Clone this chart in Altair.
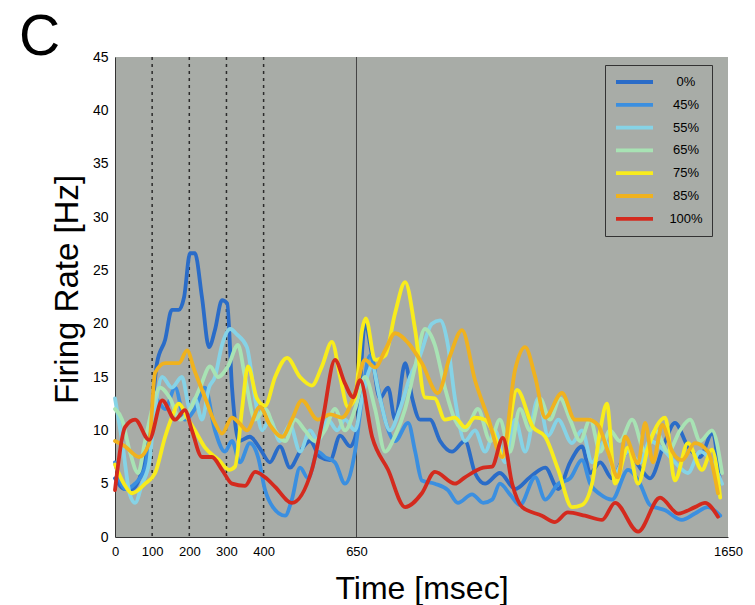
import altair as alt
import pandas as pd

series_names = ["0%", "45%", "55%", "65%", "75%", "85%", "100%"]
series_colors = ["#2a6cc8", "#3b8fe0", "#86d3e6", "#a8e3b4", "#f8ec1c", "#f0b21e", "#d42a1e"]
series_widths = [3.8, 3.8, 3, 3, 5, 5, 3]

t_0 = [0, 27, 46, 73, 94, 113, 135, 153, 172, 186, 202, 215, 234, 253, 269, 288, 302, 315, 334, 363,
       390, 417, 444, 471, 498, 525, 552, 579, 606, 633, 651, 673, 692, 713, 735, 754, 781, 800, 821, 848,
       875, 907, 942, 969, 996, 1036, 1077, 1117, 1158, 1193, 1225, 1257, 1279, 1306, 1338, 1381, 1413,
       1440, 1481, 1507, 1542, 1575, 1607, 1629]
hz_0 = [5.5, 4.5, 4.5, 6.3, 10, 16.3, 18.5, 21.3, 21.3, 22.5, 26.6, 26.6, 22.5, 17.8, 19.4, 22.2, 21.9, 14, 9, 9.4,
        8.3, 7, 8.5, 6.5, 8, 9, 7.5, 7.2, 9.5, 8.5, 10, 20, 17, 13, 14, 11, 16.3, 13, 11, 11,
        9, 8, 9, 6, 5, 6, 4.5, 5.6, 6.5, 4.5, 7, 8.5, 6, 7, 5.5, 8, 6.5,
        5.5, 9, 10.7, 8.5, 7.5, 9.7, 5]

t_45 = [0, 27, 54, 81, 108, 135, 162, 188, 215, 242, 269, 296, 315, 336, 363, 385, 404, 425, 458, 476,
        498, 520, 546, 565, 592, 619, 646, 665, 686, 708, 727, 754, 789, 808, 826, 861, 896, 923, 961, 991,
        1015, 1036, 1063, 1090, 1131, 1158, 1193, 1225, 1257, 1279, 1306, 1338, 1381, 1413, 1440, 1481,
        1526, 1561, 1596, 1629]
hz_45 = [7, 4.5, 5, 6.5, 13, 12, 14, 11, 12, 14, 10, 8, 9, 7, 8.8, 7.5, 4.4, 2.8, 2, 3.5,
         6.5, 5.5, 8, 7.5, 7, 5, 8, 13, 17, 14, 11, 9, 10.7, 8, 5.3, 5, 4.4, 3.2, 4, 3.2,
         3.5, 5, 4, 3, 5.6, 3.5, 5, 5.5, 7.2, 5, 4, 3.5, 6.3, 5, 3, 2.5,
         1.6, 2.2, 2.8, 2]

t_55 = [0, 19, 40, 54, 73, 92, 108, 127, 153, 180, 202, 215, 234, 253, 269, 288, 310, 328, 355, 377,
        396, 417, 444, 471, 498, 525, 546, 573, 598, 619, 646, 665, 692, 713, 740, 767, 794, 821, 853, 875,
        896, 915, 942, 969, 996, 1023, 1050, 1077, 1104, 1139, 1166, 1193, 1230, 1257, 1284, 1319, 1346,
        1381, 1413, 1440, 1481, 1507, 1542, 1575, 1607, 1634]
hz_55 = [13, 9, 4, 3.2, 5, 7, 12, 15, 14, 15, 12, 13, 11, 14, 15, 18, 19.5, 19, 17.8, 13,
         10, 11, 9, 10.5, 8, 10, 9, 11, 10, 11, 10, 13, 16, 13, 10, 12, 15, 17, 20, 20.3,
         18, 13, 9, 10, 8, 10, 7, 11, 8, 13, 9.5, 11, 8.8, 10, 7, 9, 6,
         8, 7, 9, 8, 7, 6, 8, 7, 5]

t_65 = [0, 19, 40, 62, 81, 100, 121, 148, 175, 202, 229, 256, 277, 304, 331, 350, 377, 404, 431, 458,
        485, 511, 538, 565, 592, 619, 646, 673, 700, 727, 754, 781, 808, 834, 861, 888, 915, 942, 977, 1010,
        1036, 1063, 1090, 1117, 1144, 1171, 1198, 1225, 1252, 1279, 1306, 1332, 1359, 1392, 1427, 1454,
        1489, 1521, 1548, 1575, 1607, 1634]
hz_65 = [12, 11, 8, 6, 9, 12, 14, 13, 11, 12, 14, 16, 15, 16, 18, 15, 11, 12, 10, 9,
         11, 10, 9, 10, 12, 10, 12, 15, 12, 8, 9.5, 12, 16, 19.5, 18, 14, 11, 10, 12, 9,
         11, 8, 12, 10, 13, 11, 13, 11, 9, 11, 8, 10, 9, 11, 8, 10,
         8, 10, 11, 9, 10, 6]

t_75 = [0, 24, 46, 81, 108, 135, 153, 172, 194, 215, 242, 280, 307, 323, 342, 358, 382, 404, 431, 463,
        498, 530, 557, 584, 606, 627, 646, 665, 675, 700, 727, 754, 781, 808, 834, 861, 888, 915, 942, 969,
        996, 1023, 1044, 1082, 1125, 1158, 1193, 1230, 1257, 1284, 1306, 1324, 1346, 1381, 1408, 1435,
        1481, 1507, 1542, 1580, 1607, 1629]
hz_75 = [6.8, 5, 4.1, 5, 6, 9.4, 11.2, 12.5, 11.2, 10, 8.4, 7.2, 6.3, 6.6, 12, 16, 13, 12.3, 15, 16.8,
         15, 14.2, 16, 18.3, 15, 12.2, 13, 19.4, 20.5, 16.6, 17, 21, 23.9, 19.4, 13.1, 13, 11, 11.2, 10.3, 11.2,
         11, 9.4, 7.5, 13.8, 10.3, 9.4, 6.3, 2.8, 3, 5, 10, 12.5, 5, 8.4, 5, 8.4,
         11.2, 5.3, 8.8, 6.3, 8.2, 3.7]

t_85 = [0, 27, 65, 92, 108, 135, 172, 194, 213, 242, 269, 288, 315, 334, 355, 390, 417, 450, 476, 503,
        546, 579, 611, 646, 673, 700, 727, 754, 789, 826, 869, 902, 934, 969, 1004, 1042, 1077, 1104, 1131,
        1158, 1203, 1238, 1273, 1300, 1327, 1354, 1373, 1408, 1427, 1448, 1473, 1500, 1526, 1561, 1596, 1623]
hz_85 = [9, 8.5, 7.5, 8.8, 15.4, 16.3, 16.3, 17.5, 15.7, 13.1, 10.7, 9.7, 11.2, 10.7, 10, 12.2, 10.5, 9.4, 11, 12.8,
         11, 11.5, 11.2, 13.5, 16.6, 15.9, 17.5, 19.1, 18.2, 16.3, 13.5, 17, 19.4, 14.7, 11.2, 7.5, 15.7, 17.8, 15,
         11.2, 13.5, 11, 11, 10.5, 8, 5.6, 9.4, 6.9, 10.7, 7, 10.5, 8, 7.2, 8.8, 8, 4.1]

t_100 = [0, 27, 54, 92, 127, 162, 188, 207, 234, 261, 288, 315, 350, 377, 404, 431, 476, 530, 560, 592,
         619, 641, 660, 692, 735, 781, 826, 861, 915, 942, 991, 1015, 1044, 1069, 1096, 1149, 1184, 1219,
         1265, 1311, 1346, 1408, 1467, 1516, 1561, 1588, 1623]
hz_100 = [4.4, 10.3, 11, 9.1, 12.8, 11, 11.9, 10, 7.5, 7.5, 6.3, 5, 4.8, 6.1, 5.6, 4.7, 3.2, 6.3, 11.2, 16.6,
          14.4, 13.1, 14.7, 9.4, 6.3, 2.8, 4.1, 6.1, 5, 5.6, 6.5, 6.6, 9.3, 5, 2.8, 2, 1.4, 2.3,
          2, 1.6, 3.2, 0.5, 3.7, 2.2, 2.8, 3.2, 1.9]

dashed_times = [100, 200, 300, 400]
solid_times = [650]
x_ticks = [0, 100, 200, 300, 400, 650, 1650]
y_ticks = [0, 5, 10, 15, 20, 25, 30, 35, 40, 45]

all_t = [t_0, t_45, t_55, t_65, t_75, t_85, t_100]
all_v = [hz_0, hz_45, hz_55, hz_65, hz_75, hz_85, hz_100]
rows = []
for name, ts, vs in zip(series_names, all_t, all_v):
    for t, v in zip(ts, vs):
        rows.append({"series": name, "time": t, "rate": v})
df = pd.DataFrame(rows)

FONT = "Liberation Sans"
BG = "#a8aca7"

x_scale = alt.Scale(domain=[0, 1650], nice=False, zero=False)
y_scale = alt.Scale(domain=[0, 45], nice=False)

lines = alt.Chart(df).mark_line(interpolate="monotone", strokeCap="round", strokeJoin="round").encode(
    x=alt.X("time:Q", scale=x_scale,
            axis=alt.Axis(values=x_ticks, format="d", title="Time [msec]", labelFlush=False, ticks=False,
                          labelPadding=8, labelFontSize=13, titleFontSize=32, titleY=61,
                          titleBaseline="alphabetic", grid=False)),
    y=alt.Y("rate:Q", scale=y_scale,
            axis=alt.Axis(values=y_ticks, title="Firing Rate [Hz]", labelFlush=False, ticks=False,
                          labelPadding=7, labelFontSize=14, titleFontSize=33, titleX=-38, titleY=232,
                          titleAngle=270, titleBaseline="alphabetic", titleAlign="center", grid=False)),
    color=alt.Color("series:N", sort=series_names,
                    scale=alt.Scale(domain=series_names, range=series_colors),
                    legend=alt.Legend(title=None, orient="none", legendX=490, legendY=8,
                                      strokeColor="#333333", fillColor=BG, padding=9,
                                      symbolType="stroke", symbolSize=1369, symbolStrokeWidth=3.8,
                                      clipHeight=16, rowPadding=6.8, labelFontSize=13,
                                      labelAlign="center", labelOffset=31, labelFont=FONT)),
    strokeWidth=alt.StrokeWidth("series:N", sort=series_names,
                                scale=alt.Scale(domain=series_names, range=series_widths), legend=None),
)

dashed = alt.Chart(pd.DataFrame({"time": dashed_times})).mark_rule(
    color="#2b2b2b", strokeDash=[3, 4], strokeWidth=1.5).encode(x=alt.X("time:Q", scale=x_scale))
solid = alt.Chart(pd.DataFrame({"time": solid_times})).mark_rule(
    color="#444444", strokeWidth=1).encode(x=alt.X("time:Q", scale=x_scale))

panel = alt.Chart(pd.DataFrame({"label": ["C"]})).mark_text(
    fontSize=57, font=FONT, align="left", baseline="alphabetic", color="black"
).encode(text="label:N", x=alt.value(-96), y=alt.value(-2))

chart = alt.layer(dashed, solid, lines, panel).properties(
    width=613, height=480,
    autosize=alt.AutoSizeParams(type="none"),
    padding={"left": 115, "top": 57, "right": 27, "bottom": 68},
    background="white",
).configure_view(fill=BG, stroke=None).configure_axis(
    labelFont=FONT, titleFont=FONT, titleFontWeight="normal", labelColor="black",
    titleColor="black", domainColor="#333333", domainWidth=1
)

chart.save("out.html", embed_options={"renderer": "svg", "actions": False})
